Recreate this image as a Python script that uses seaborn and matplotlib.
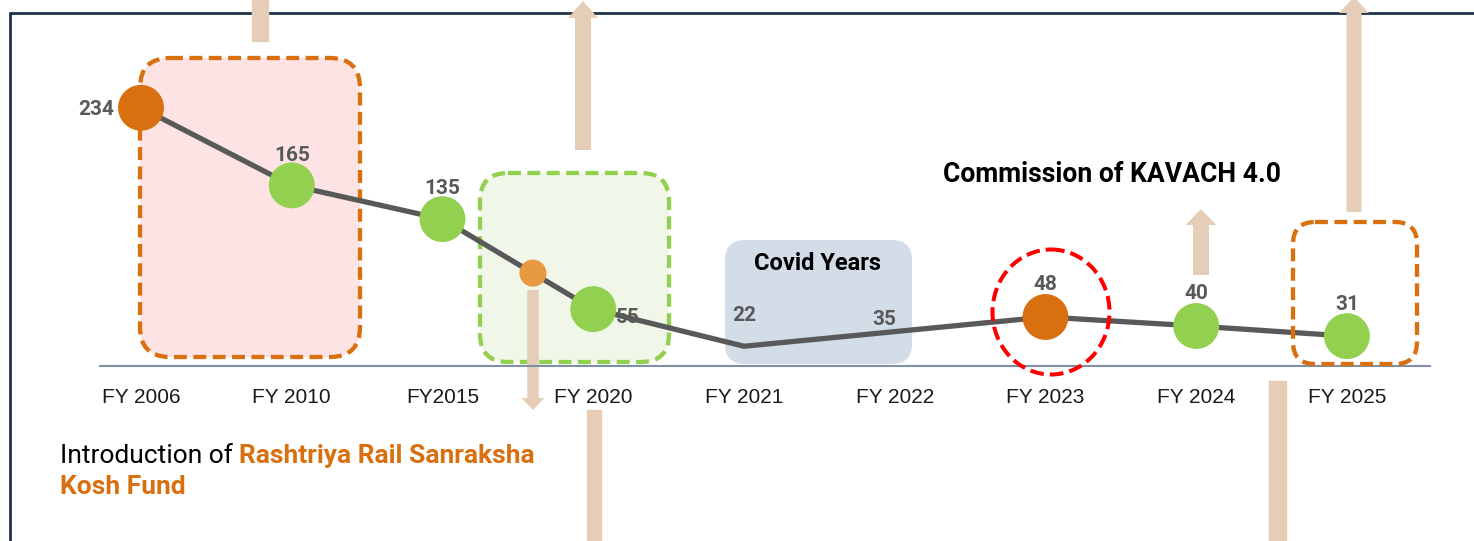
import numpy as np
import pandas as pd
import seaborn as sns
import matplotlib.pyplot as plt
from matplotlib.patches import FancyBboxPatch, Ellipse, Rectangle, FancyArrow
from matplotlib.lines import Line2D
from matplotlib.transforms import Affine2D

# data
years = ["FY 2006", "FY 2010", "FY2015", "FY 2020", "FY 2021",
         "FY 2022", "FY 2023", "FY 2024", "FY 2025"]
values = [234, 165, 135, 55, 22, 35, 48, 40, 31]
marker_kind = ["highlight", "normal", "normal", "normal", None, None,
               "highlight", "normal", "normal"]
# small milestone dot sitting on the line between FY2015 and FY 2020
mid_dot_x = [2.6]
mid_dot_val = [87]

# label offsets (pixels, y down) relative to each point
label_offsets = [(-45, 2), (0, -30), (0, -31), (35, 8), (0, -31),
                 (-10, -12), (0, -32), (0, -32), (0, -32)]

ORANGE = "#d9700f"
GREEN = "#92d050"
TAN = "#e6cdb8"
LINE = "#595959"

sns.set_theme(style="white")
plt.rcParams['font.family'] = ['Roboto', 'DejaVu Sans']

W, H = 1474, 541
fig = plt.figure(figsize=(W / 100, H / 100), dpi=100)
ax = fig.add_axes([100 / W, (H - 366) / H, 1330 / W, 366 / H])
ax.set_facecolor("none")

# pixel coords, origin top-left
px = Affine2D().scale(1, -1).translate(0, H).scale(1 / 100) + fig.dpi_scale_trans

df = pd.DataFrame({"pos": np.arange(len(years)), "year": years,
                   "value": values, "kind": marker_kind})

sns.lineplot(data=df, x="pos", y="value", color=LINE, linewidth=3.8,
             sort=False, ax=ax, zorder=2)
sns.scatterplot(data=df.dropna(subset=["kind"]), x="pos", y="value", hue="kind",
                palette={"highlight": ORANGE, "normal": GREEN}, s=1090,
                edgecolor="none", legend=False, ax=ax, zorder=5, clip_on=False)
ax.scatter(mid_dot_x, mid_dot_val, s=380, color="#e89a42", edgecolor="none", zorder=5)

for i, v in enumerate(values):
    dx, dy = label_offsets[i]
    ax.annotate(str(v), (i, v), xytext=(dx, -dy), textcoords="offset pixels",
                ha="center", va="center", fontsize=15, fontweight="bold",
                color=LINE, zorder=3)

ax.set_xlim(-0.272, 8.551)
ax.set_ylim(4.44, 329.8)
ax.set_xticks(range(len(years)))
ax.set_xticklabels(years, fontsize=15, family="Liberation Sans", color="#1a1a1a")
ax.tick_params(axis="x", length=0, pad=16)
ax.set_yticks([])
ax.set_xlabel("")
ax.set_ylabel("")
for s in ["top", "left", "right"]:
    ax.spines[s].set_visible(False)
ax.spines["bottom"].set_color("#7f8fa6")
ax.spines["bottom"].set_linewidth(1.5)
ax.spines["bottom"].set_zorder(1)

# frame
for xs, ys in [([10, W], [13, 13]), ([10, 10], [13, H])]:
    ax.add_line(Line2D(xs, ys, transform=px, color="#1f3347", lw=2, clip_on=False, zorder=0))


def rbox(x0, y0, x1, y1, r, fc, ec, ls="-", lw=0, z=1):
    p = FancyBboxPatch((x0, y0), x1 - x0, y1 - y0,
                       boxstyle=f"round,pad=0,rounding_size={r}", transform=px,
                       facecolor=fc, edgecolor=ec, linestyle=ls, linewidth=lw,
                       clip_on=False, zorder=z)
    ax.add_patch(p)


dash = (0, (3.0, 1.5))
rbox(140, 58, 360, 357, 30, "#fde3e3", ORANGE, dash, 3.1)
rbox(480, 173, 669, 362, 28, "#f1f7e8", GREEN, dash, 3.1)
rbox(725, 240, 912, 364, 20, "#d3dde8", "none")
rbox(1293, 222, 1417, 364, 22, "none", ORANGE, dash, 3.1, z=4)
ax.add_patch(Ellipse((1051, 312), 117, 125, transform=px, facecolor="none",
                     edgecolor="#ff0000", linewidth=2.9, linestyle=(0, (3.4, 1.5)),
                     clip_on=False, zorder=4))

# arrows / bars
ax.add_patch(Rectangle((252, -2), 16, 43, transform=px, color=TAN, clip_on=False, zorder=1))
ax.add_patch(Rectangle((587, 410), 14, 140, transform=px, color=TAN, clip_on=False, zorder=1))
ax.add_patch(Rectangle((1269, 381), 17, 170, transform=px, color=TAN, clip_on=False, zorder=1))
for x, y0, y1, w, hw, hl in [(583, 150, 1, 16, 30, 17),
                             (533, 290, 410, 11.5, 23, 12),
                             (1201, 275, 209, 16, 31, 16),
                             (1354, 212, -3, 15, 30, 16)]:
    ax.add_patch(FancyArrow(x, y0, 0, y1 - y0, width=w, head_width=hw, head_length=hl,
                            length_includes_head=True, transform=px, color=TAN,
                            lw=0, clip_on=False, zorder=1))

# texts
ax.text(817, 264, "Covid Years", transform=px, ha="center", va="center",
        fontsize=17, fontweight="bold", color="black", zorder=6)
ax.text(1112, 175, "Commission of KAVACH 4.0", transform=px, ha="center", va="center",
        fontsize=19.1, fontweight="bold", color="black", zorder=6)
t1 = ax.text(60, 463, "Introduction of ", transform=px, ha="left", va="baseline",
             fontsize=19, color="black")
ax.annotate("Rashtriya Rail Sanraksha", xy=(1, 0), xycoords=t1, ha="left", va="bottom",
            fontsize=19, fontweight="bold", color=ORANGE)
ax.text(60, 494, "Kosh Fund", transform=px, ha="left", va="baseline",
        fontsize=19, fontweight="bold", color=ORANGE)

fig.savefig("out.png", dpi=100)
